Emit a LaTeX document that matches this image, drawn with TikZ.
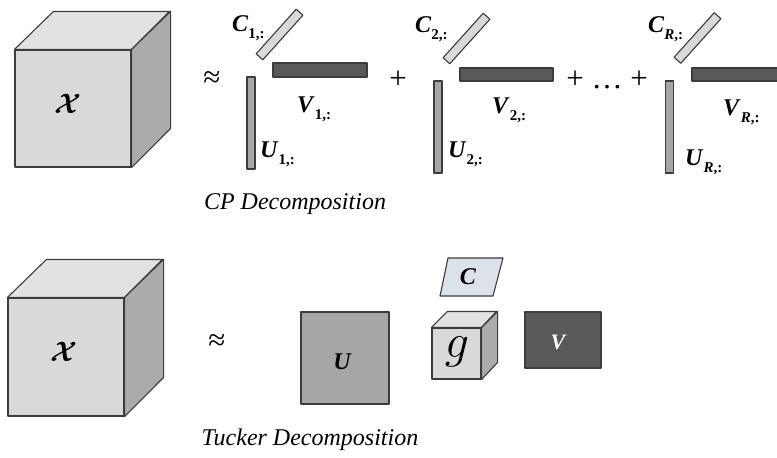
\RequirePackage{fix-cm}
\documentclass[tikz,border=0pt]{standalone}
\usepackage{amsmath,amssymb}
\usepackage{fontspec}
\setmainfont{Liberation Serif}
\usepackage{tikz}
\usetikzlibrary{positioning,calc}
\usepackage{xcolor}

\definecolor{edgegray}{HTML}{3C3C3C}
\definecolor{frontgray}{HTML}{D9D9D9}
\definecolor{topgray}{HTML}{E2E2E2}
\definecolor{sidegray}{HTML}{ABABAB}
\definecolor{ugray}{HTML}{A6A6A6}
\definecolor{vgray}{HTML}{595959}
\definecolor{cblue}{HTML}{DCE2EA}

% factor label: bold italic letter with bold index
\newcommand{\facLabel}[2]{\textbf{\textit{#1}}\raisebox{-0.3em}{\fontsize{15}{17}\selectfont\bfseries #2}}

\begin{document}
\begin{tikzpicture}[
  x=1pt, y=-1pt, line join=round,
  face/.style={draw=edgegray, line width=1.1pt},
  bar/.style={face, rectangle, inner sep=0pt},
  ubar/.style={bar, fill=ugray},
  vbar/.style={bar, fill=vgray},
  cbar/.style={bar, fill=frontgray, rotate=48, minimum width=60pt, minimum height=9pt},
  sym/.style={font=\fontsize{24}{28}\selectfont, inner sep=0pt, anchor=base west},
  op/.style={font=\fontsize{31}{34}\selectfont, inner sep=0pt},
  caption/.style={font=\itshape\fontsize{24}{28}\selectfont, inner sep=0pt}
]
\useasboundingbox (0,0) rectangle (777,458);

% CP: tensor
\node[face, fill=frontgray, minimum width=116pt, minimum height=117pt, inner sep=0pt] (cpX) at (73,108.5) {};
\filldraw[face, fill=topgray] (cpX.north west) -- ++(39,-38) -- ++(116,0) -- (cpX.north east) -- cycle;
\filldraw[face, fill=sidegray] (cpX.north east) -- ++(39,-38) -- ++(0,117) -- (cpX.south east) -- cycle;
\node[font=\boldmath\fontsize{28}{32}\selectfont] (cpXlab) at (68,104) {$\mathcal{X}$};

\node[op] (cpApprox) at (212,80) {≈};

% CP: rank-one term 1
\node[ubar, minimum width=8pt, minimum height=92pt] (U1) at (251,123) {};
\node[vbar, minimum width=94pt, minimum height=14pt] (V1) at (320,70) {};
\node[cbar] (C1) at (279.5,34.5) {};
\node[sym] (C1lab) at (232,31) {\facLabel{C}{1,:}};
\node[sym] (V1lab) at (297,112) {\facLabel{V}{1,:}};
\node[sym] (U1lab) at (260,157) {\facLabel{U}{1,:}};

\node[op] (plus1) at (398,80) {+};

% CP: rank-one term 2
\node[ubar, minimum width=8pt, minimum height=92pt] (U2) at (438,127) {};
\node[vbar, minimum width=93pt, minimum height=13pt] (V2) at (506.5,74.5) {};
\node[cbar] (C2) at (466.5,38.5) {};
\node[sym] (C2lab) at (415,32) {\facLabel{C}{2,:}};
\node[sym] (V2lab) at (492,113) {\facLabel{V}{2,:}};
\node[sym] (U2lab) at (448,157) {\facLabel{U}{2,:}};

\node[op] (dots) at (607,80) {+ … +};

% CP: rank-one term R
\node[ubar, minimum width=8pt, minimum height=92pt] (UR) at (669.5,127) {};
\node[vbar, minimum width=98pt, minimum height=13pt] (VR) at (741,74.5) {};
\node[cbar] (CR) at (697.5,38) {};
\node[sym] (CRlab) at (648,32) {\facLabel{C}{\textit{R},:}};
\node[sym] (VRlab) at (723,115) {\facLabel{V}{\textit{R},:}};
\node[sym] (URlab) at (685,165) {\facLabel{U}{\textit{R},:}};

\node[caption] (cpCap) at (295,204) {CP Decomposition};

% Tucker: tensor
\node[face, fill=frontgray, minimum width=116pt, minimum height=118pt, inner sep=0pt] (tkX) at (66,357) {};
\filldraw[face, fill=topgray] (tkX.north west) -- ++(39,-38) -- ++(116,0) -- (tkX.north east) -- cycle;
\filldraw[face, fill=sidegray] (tkX.north east) -- ++(39,-38) -- ++(0,118) -- (tkX.south east) -- cycle;
\node[font=\boldmath\fontsize{28}{32}\selectfont] (tkXlab) at (64,352) {$\mathcal{X}$};

\node[op] (tkApprox) at (217,343) {≈};

% Tucker: factors and core
\node[ubar, minimum width=88pt, minimum height=92pt] (tkU) at (345,358) {};
\node[font=\bfseries\itshape\fontsize{24}{28}\selectfont] (tkUlab) at (342,362) {U};

\filldraw[face, fill=cblue] (440,296) -- (493,296) -- (503,258) -- (448,258) -- cycle;
\node[font=\bfseries\itshape\fontsize{24}{28}\selectfont] (tkClab) at (468,277) {C};

\node[face, fill=frontgray, minimum width=49pt, minimum height=51pt, inner sep=0pt] (tkG) at (456.5,353.5) {};
\filldraw[face, fill=topgray] (tkG.north west) -- ++(16,-16) -- ++(49,0) -- (tkG.north east) -- cycle;
\filldraw[face, fill=sidegray] (tkG.north east) -- ++(16,-16) -- ++(0,51) -- (tkG.south east) -- cycle;
\node[font=\fontsize{48}{52}\selectfont] (tkGlab) at (457,352) {$g$};

\node[vbar, minimum width=76pt, minimum height=56pt] (tkV) at (563,340) {};
\node[font=\bfseries\itshape\fontsize{22}{26}\selectfont, text=white] (tkVlab) at (558,342) {V};

\node[caption] (tkCap) at (310,440) {Tucker Decomposition};
\end{tikzpicture}
\end{document}
